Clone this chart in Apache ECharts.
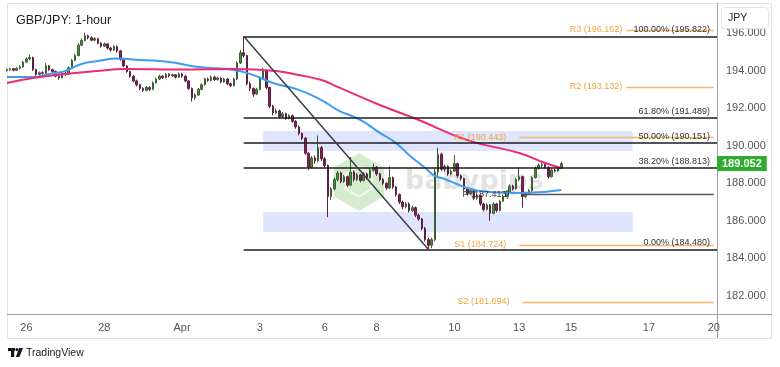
<!DOCTYPE html>
<html><head><meta charset="utf-8">
<script src="https://cdn.jsdelivr.net/npm/echarts@6/dist/echarts.min.js"></script>
<style>html,body{margin:0;padding:0;background:#fff}#c{width:780px;height:367px}</style>
</head><body><div id="c"></div>
<script>
// ---- data ----
const slotCount = 220; // 2-hour slots along the time axis
const tickIdx = [6, 30, 54, 78, 98, 114, 138, 158, 174, 198, 218];
const tickText = ['26', '28', 'Apr', '3', '6', '8', '10', '13', '15', '17', '20'];

// [open, close, low, high] per 2-hour slot
const ohlc = [
[194.00,194.05,193.95,194.12],[194.05,194.10,193.98,194.16],[194.10,194.02,193.96,194.14],[194.02,194.12,193.98,194.18],
[194.12,194.20,194.06,194.28],[194.20,194.45,194.15,194.52],[194.45,194.62,194.40,194.70],[194.62,194.70,194.55,194.85],
[194.70,194.05,193.98,194.74],[194.05,193.80,193.72,194.10],[193.80,193.88,193.74,193.95],[193.88,193.85,193.78,193.96],
[193.85,194.25,193.82,194.40],[194.25,194.05,193.98,194.30],[194.05,193.95,193.88,194.10],[193.95,193.70,193.64,194.00],
[193.70,193.62,193.52,193.76],[193.62,193.85,193.58,193.90],[193.85,193.80,193.72,193.92],[193.80,194.15,193.76,194.22],
[194.15,194.55,194.10,194.62],[194.55,194.80,194.50,194.90],[194.80,195.35,194.76,195.45],[195.35,195.60,195.30,195.72],
[195.60,195.85,195.55,196.02],[195.85,195.75,195.66,195.92],[195.75,195.62,195.55,195.82],[195.62,195.70,195.56,195.78],
[195.70,195.45,195.40,195.74],[195.45,195.30,195.22,195.52],[195.30,195.42,195.25,195.50],[195.42,195.20,195.12,195.46],
[195.20,195.10,195.02,195.26],[195.10,195.28,195.05,195.36],[195.28,195.05,194.96,195.34],[195.05,194.60,194.52,195.10],
[194.60,194.25,194.18,194.66],[194.25,193.95,193.88,194.30],[193.95,193.70,193.62,194.00],[193.70,193.45,193.38,193.76],
[193.45,193.25,193.16,193.52],[193.25,193.05,192.96,193.30],[193.05,192.95,192.85,193.12],[192.95,193.10,192.90,193.18],
[193.10,193.00,192.92,193.16],[193.00,193.35,192.96,193.42],[193.35,193.55,193.30,193.62],[193.55,193.70,193.50,193.78],
[193.70,193.62,193.55,193.76],[193.62,193.80,193.58,193.88],[193.80,193.72,193.64,193.86],[193.72,193.78,193.66,193.84],
[193.78,193.65,193.58,193.82],[193.65,193.82,193.60,193.90],[193.82,193.70,193.62,193.88],[193.70,193.45,193.38,193.76],
[193.45,193.05,192.98,193.50],[193.05,192.55,192.35,193.10],[192.55,192.70,192.45,192.78],[192.70,193.00,192.64,193.08],
[193.00,193.25,192.95,193.32],[193.25,193.55,193.20,193.62],[193.55,193.48,193.40,193.62],[193.48,193.65,193.42,193.74],
[193.65,193.52,193.45,193.72],[193.52,193.60,193.46,193.68],[193.60,193.40,193.32,193.65],[193.40,193.55,193.35,193.62],
[193.55,193.30,193.22,193.60],[193.30,193.20,193.12,193.36],[193.20,193.55,193.15,193.62],[193.55,194.40,193.50,194.50],
[194.40,194.95,194.35,195.10],[194.95,194.80,194.70,195.82],[194.80,193.30,193.20,194.85],[193.30,193.05,192.90,193.40],
[193.05,192.75,192.60,193.10],[192.75,193.00,192.70,193.08],[193.00,193.60,192.95,193.70],[193.60,194.00,193.55,194.15],
[194.00,193.10,193.00,194.05],[193.10,192.10,192.00,193.15],[192.10,191.75,191.62,192.18],[191.75,191.85,191.68,191.98],
[191.85,191.55,191.45,191.92],[191.55,191.70,191.48,191.80],[191.70,191.45,191.38,191.76],[191.45,191.60,191.40,191.68],
[191.60,191.30,191.22,191.66],[191.30,191.00,190.90,191.36],[191.00,190.65,190.55,191.08],[190.65,190.40,190.30,190.72],
[190.40,189.60,189.50,190.46],[189.60,188.85,188.70,189.68],[188.85,189.35,188.80,189.45],[189.35,189.20,189.05,189.48],
[189.20,189.90,189.12,190.55],[189.90,189.30,189.18,189.98],[189.30,188.95,188.85,189.40],[188.95,187.30,186.20,189.00],
[187.30,187.70,187.10,187.80],[187.70,188.20,187.62,188.30],[188.20,188.55,188.10,188.65],[188.55,188.10,188.00,188.62],
[188.10,188.35,188.02,188.45],[188.35,187.90,187.80,188.40],[187.90,188.60,187.85,189.40],[188.60,188.20,188.10,188.68],
[188.20,188.45,188.12,188.55],[188.45,188.15,188.05,188.50],[188.15,188.50,188.10,188.60],[188.50,188.30,188.20,188.56],
[188.30,188.70,188.25,188.80],[188.70,188.85,188.62,189.05],[188.85,188.50,188.40,188.92],[188.50,188.20,188.10,188.56],
[188.20,188.00,187.90,188.28],[188.00,187.75,187.65,188.05],[187.75,188.30,187.70,188.90],[188.30,187.80,187.70,188.36],
[187.80,187.40,187.30,187.86],[187.40,187.00,186.90,187.46],[187.00,186.75,186.62,187.08],[186.75,186.90,186.66,187.00],
[186.90,186.55,186.45,186.98],[186.55,186.70,186.48,186.80],[186.70,186.30,186.20,186.76],[186.30,186.10,186.00,186.38],
[186.10,185.60,185.50,186.15],[185.60,185.00,184.90,185.68],[185.00,184.70,184.48,185.10],[184.70,185.00,184.55,185.10],
[185.00,188.60,184.90,188.80],[188.60,189.55,188.40,189.90],[189.55,188.75,188.65,189.62],[188.75,188.90,188.60,189.00],
[188.90,188.50,188.40,188.96],[188.50,188.65,188.42,188.74],[188.65,189.05,188.60,189.50],[189.05,188.40,188.30,189.10],
[188.40,188.25,188.15,188.48],[188.25,187.70,187.60,188.30],[187.70,187.45,187.35,187.78],[187.45,187.60,187.38,187.70],
[187.60,187.20,187.10,187.66],[187.20,187.35,187.12,187.44],[187.35,186.90,186.80,187.40],[186.90,186.60,186.50,186.96],
[186.60,186.85,186.55,186.94],[186.85,186.40,186.00,186.90],[186.40,186.90,186.35,187.00],[186.90,186.55,186.45,186.96],
[186.55,187.05,186.50,187.12],[187.05,187.30,187.00,187.40],[187.30,187.55,187.25,187.62],[187.55,187.85,187.50,187.95],
[187.85,187.70,187.62,187.92],[187.70,188.20,187.66,188.28],[188.20,188.35,188.10,188.85],[188.35,187.30,186.70,188.40],
[187.30,187.45,187.20,187.55],[187.45,187.60,187.38,187.70],[187.60,188.30,187.55,188.38],[188.30,188.80,188.25,188.90],
[188.80,188.95,188.72,189.05],[188.95,189.00,188.85,189.15],[189.00,188.85,188.78,189.08],[188.85,188.35,188.25,188.90],
[188.35,188.70,188.30,188.78],[188.70,188.65,188.58,188.76],[188.65,188.80,188.60,188.88],[188.80,189.05,188.75,189.15]
];

// moving averages: [slot, value]
const maBlue = [[0,193.66],[8,193.66],[13,193.82],[18,193.98],[23,194.35],[28,194.51],[34,194.64],[41,194.56],
  [50,194.46],[59,194.19],[70,194.03],[76,193.76],[82,193.34],[90,192.97],[97,192.43],[102,191.90],[109,191.37],
  [115,190.68],[120,190.14],[124,189.51],[129,188.81],[132,188.39],[135,188.23],[142,187.75],[149,187.54],[159,187.48],[171,187.64]];
const maPink = [[0,193.34],[8,193.60],[18,193.82],[28,193.98],[36,194.08],[53,194.06],[70,194.08],[83,193.98],
  [90,193.76],[97,193.50],[102,193.13],[115,192.17],[127,191.37],[142,190.30],[158,189.61],[166,189.08],[171,188.81]];

const fibLevels = [195.822, 191.489, 190.151, 188.813, 184.480];
const fibPct = ['100.00%', '61.80%', '50.00%', '38.20%', '0.00%'];
const fibFromSlot = 73;

const pivotNames = ['R3', 'R2', 'R1', 'P', 'S1', 'S2'];
const pivotLevels = [196.162, 193.132, 190.443, 187.413, 184.724, 181.694];
const pivotFromSlot = [191, 191, 158, 159, 158, 159];

const zoneTop = [190.78, 186.47];
const zoneBottom = [189.72, 185.41];
const zoneSlots = [79, 193];

const trendStart = [73, 195.822];
const trendEnd = [130, 184.480];
const lastPrice = 189.052;

// ---- chart ----
const cats = Array.from({length: slotCount}, (_, i) => 's' + i);
const chart = echarts.init(document.getElementById('c'));
const F = 'Liberation Sans, Arial, sans-serif';
const orange = '#f4a33c';

const fibLines = fibLevels.map((v, k) => [
  {coord: [fibFromSlot, v], label: {formatter: fibPct[k] + ' (' + v.toFixed(3) + ')'}},
  {coord: [slotCount - 1, v]}
]);
const pivotLines = pivotLevels.map((v, k) => {
  const isP = pivotNames[k] === 'P';
  return [
    {coord: [pivotFromSlot[k], v],
     lineStyle: {color: isP ? '#555' : '#f8b766', width: 1.3, type: 'solid'},
     label: {formatter: pivotNames[k] + ' (' + v.toFixed(3) + ')', color: isP ? '#333' : orange,
             distance: (k < 2) ? 4 : 13}},
    {coord: [slotCount - 2, v]}
  ];
});

chart.setOption({
  animation: false,
  backgroundColor: '#fff',
  title: {text: 'GBP/JPY: 1-hour', left: 11, top: 9,
    textStyle: {fontSize: 12.5, fontWeight: 'normal', color: '#222', fontFamily: F}},
  grid: {left: 7, right: 63, top: 4, bottom: 53},
  xAxis: {
    type: 'category', data: cats, boundaryGap: false,
    axisLine: {show: false}, axisTick: {show: false}, splitLine: {show: false},
    axisLabel: {
      interval: (i) => tickIdx.indexOf(i) >= 0,
      formatter: (v, i) => { const k = tickIdx.indexOf(i); return k >= 0 ? tickText[k] : ''; },
      color: '#555', fontSize: 11, margin: 8, fontFamily: F
    }
  },
  yAxis: {
    type: 'value', position: 'right', min: 181.042, max: 197.544, splitNumber: 8,
    axisLine: {show: false}, axisTick: {show: false}, splitLine: {show: false},
    axisLabel: {formatter: (v) => v.toFixed(3), color: '#555', fontSize: 11, margin: 9,
      showMinLabel: false, showMaxLabel: false, fontFamily: F}
  },
  graphic: [
    {type: 'rect', z: 0, silent: true, shape: {x: 7.5, y: 3.5, width: 764, height: 335},
     style: {fill: 'none', stroke: '#e0e3eb', lineWidth: 1}},
    {type: 'line', z: 0, silent: true, shape: {x1: 7, y1: 314.5, x2: 772, y2: 314.5},
     style: {stroke: '#a0a3ab', lineWidth: 1}},
    {type: 'line', z: 0, silent: true, shape: {x1: 717.5, y1: 3, x2: 717.5, y2: 338},
     style: {stroke: '#a0a3ab', lineWidth: 1}},
    // watermark
    {type: 'polygon', z: 1, silent: true,
     shape: {points: [[359,153],[384,167.5],[384,196.5],[359,211],[334,196.5],[334,167.5]]},
     style: {fill: 'rgba(120,195,100,0.32)'}},
    {type: 'polyline', z: 1, silent: true,
     shape: {points: [[346,174],[359,166.5],[372,174],[372,189],[359,196.5],[346,189],[346,174]]},
     style: {stroke: 'rgba(255,255,255,0.7)', lineWidth: 2, fill: 'none'}},
    {type: 'text', z: 1, silent: true,
     style: {text: 'babypips', x: 405, y: 182, fontSize: 27, fontWeight: 'bold', fontFamily: 'DejaVu Sans',
       fill: 'rgba(150,150,150,0.27)', verticalAlign: 'middle'}},
    // currency box
    {type: 'rect', z: 100, silent: true, shape: {x: 721.5, y: 7.5, width: 47, height: 21, r: 3},
     style: {fill: '#fff', stroke: '#e0e3eb', lineWidth: 1}},
    {type: 'text', z: 101, silent: true,
     style: {text: 'JPY', x: 728, y: 18, fontSize: 10.5, fill: '#222', fontFamily: F, verticalAlign: 'middle'}},
    // TradingView logo
    {type: 'rect', z: 5, silent: true, shape: {x: 8, y: 348, width: 7, height: 3}, style: {fill: '#131722'}},
    {type: 'rect', z: 5, silent: true, shape: {x: 11, y: 348, width: 3.2, height: 9}, style: {fill: '#131722'}},
    {type: 'circle', z: 5, silent: true, shape: {cx: 17, cy: 349.6, r: 1.6}, style: {fill: '#131722'}},
    {type: 'polygon', z: 5, silent: true, shape: {points: [[19.2,348],[23,348],[19.4,357],[15.8,357]]}, style: {fill: '#131722'}},
    {type: 'text', z: 5, silent: true,
     style: {text: 'TradingView', x: 26, y: 353, fontSize: 10.5, fill: '#131722', fontFamily: F, verticalAlign: 'middle'}}
  ],
  series: [
    {
      type: 'candlestick', name: 'GBPJPY', data: ohlc, barWidth: 2, z: 3,
      itemStyle: {color: '#4d8f3f', color0: '#8a1f50', borderColor: '#3a6131', borderColor0: '#5c2142', borderWidth: 1},
      markArea: {
        silent: true, itemStyle: {color: 'rgba(190,204,250,0.5)'},
        data: zoneTop.map((t, k) => [{coord: [zoneSlots[0], t]}, {coord: [zoneSlots[1], zoneBottom[k]]}])
      },
      markLine: {
        silent: true, symbol: ['none', 'none'], animation: false,
        lineStyle: {color: '#1c1c1c', width: 1.6, type: 'solid'},
        label: {show: true, position: 'insideEndTop', color: '#333', fontSize: 9, fontFamily: F, distance: [7, 2]},
        data: fibLines.concat([[
          {coord: trendStart, label: {show: false}, lineStyle: {color: '#3a3e48', width: 1.5}},
          {coord: trendEnd}
        ]])
      }
    },
    {
      type: 'line', name: 'MA100', data: maBlue, smooth: true, showSymbol: false, z: 4,
      lineStyle: {color: '#3f9cf2', width: 2}
    },
    {
      type: 'line', name: 'MA200', data: maPink, smooth: true, showSymbol: false, z: 4,
      lineStyle: {color: '#ec2a78', width: 2}
    },
    {
      type: 'line', name: 'pivots', data: [], z: 2,
      markLine: {
        silent: true, symbol: ['none', 'none'], animation: false,
        lineStyle: {type: 'solid', width: 1.3, color: '#f8b766'},
        label: {show: true, position: 'start', fontSize: 9, fontFamily: F},
        data: pivotLines
      }
    },
    {
      type: 'line', name: 'last', data: [], z: 6,
      markLine: {
        silent: true, symbol: ['none', 'none'], animation: false,
        lineStyle: {color: 'rgba(0,0,0,0)', width: 1, type: 'solid'},
        label: {show: true, position: 'end', distance: 0, formatter: lastPrice.toFixed(3),
          backgroundColor: '#2eac2e', color: '#fff', fontSize: 11, fontWeight: 'bold',
          padding: [2, 5, 2, 5], fontFamily: F},
        data: [[{coord: [0, lastPrice]}, {coord: [slotCount - 1, lastPrice]}]]
      }
    }
  ]
});
</script></body></html>
